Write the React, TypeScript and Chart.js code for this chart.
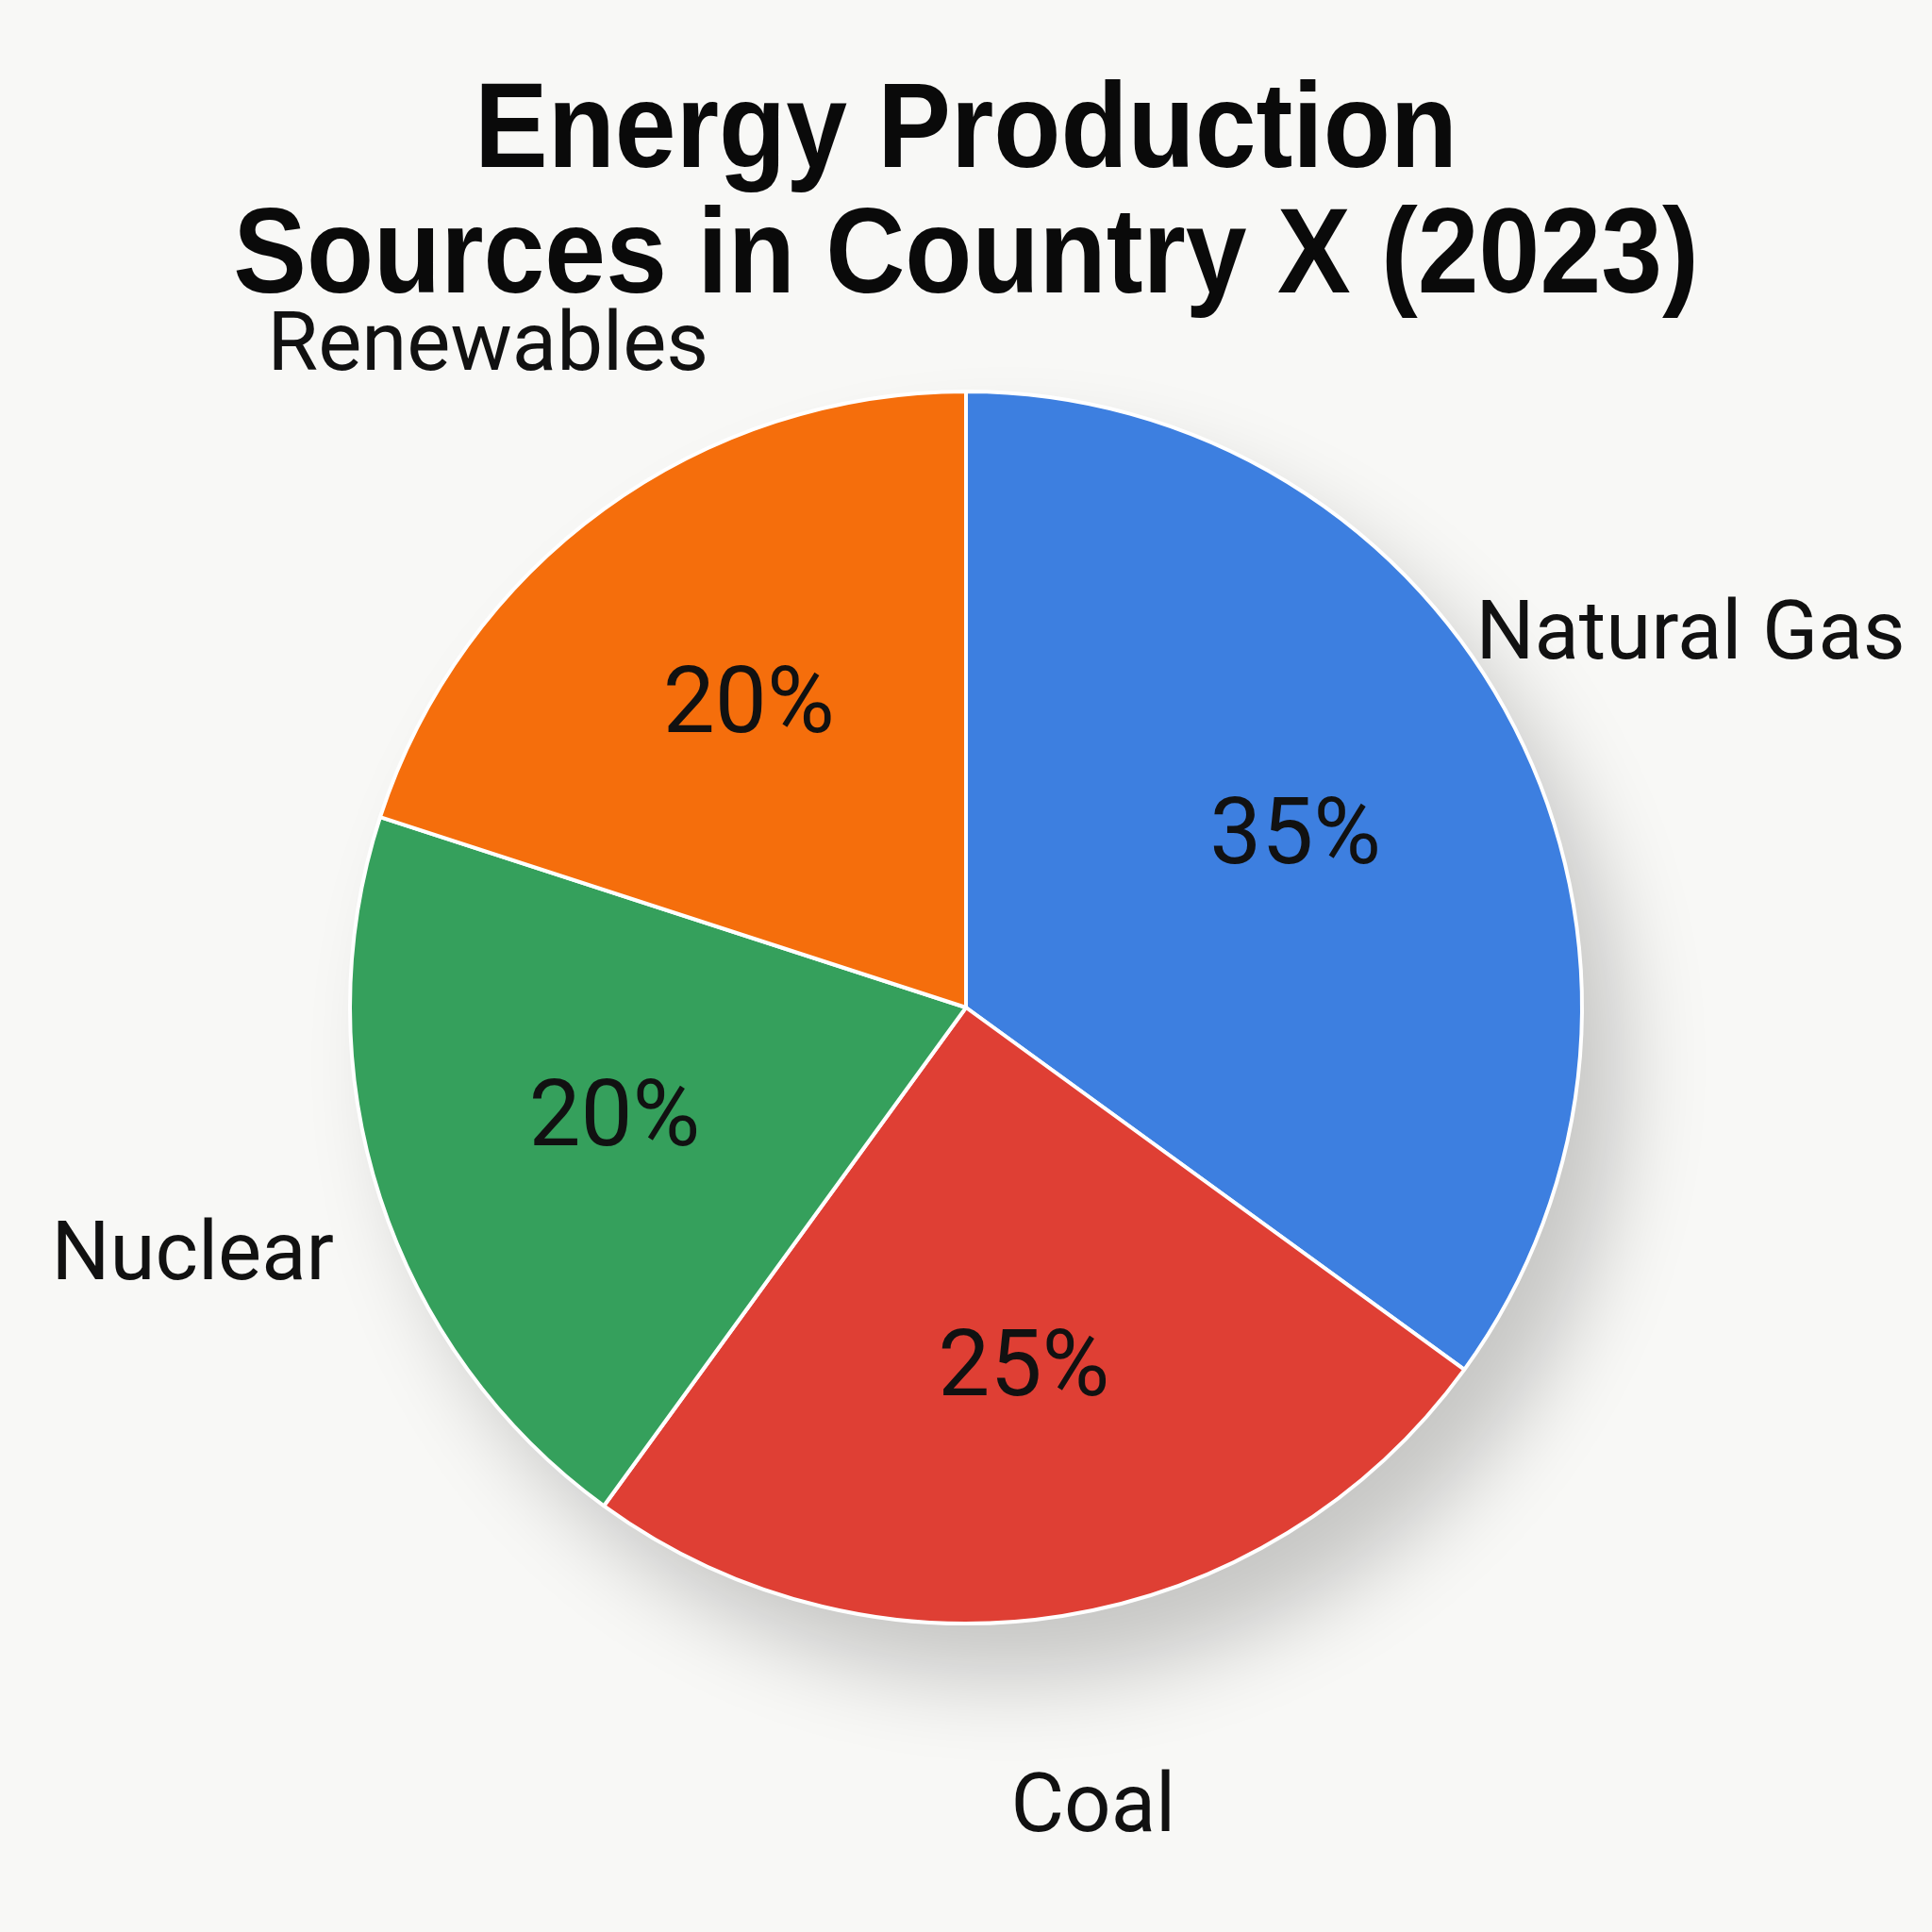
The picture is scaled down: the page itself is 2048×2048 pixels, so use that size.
import React, { useEffect, useRef } from "react";
import { Chart, registerables } from "chart.js";

Chart.register(...registerables);

const categories = ["Natural Gas", "Coal", "Nuclear", "Renewables"];
const shares = [35, 25, 20, 20];
const sliceColors = ["#3d7fe0", "#df3f34", "#35a05c", "#f56e0c"];
const titleLines = ["Energy Production", "Sources in Country X (2023)"];

const SIZE = 2048;

const decorPlugin = {
  id: "decor",
  beforeDraw(chart: any) {
    const { ctx } = chart;
    ctx.save();
    ctx.fillStyle = "#f8f8f6";
    ctx.fillRect(0, 0, chart.width, chart.height);
    // title (slightly condensed bold sans)
    ctx.fillStyle = "#0a0a0a";
    ctx.textAlign = "center";
    ctx.textBaseline = "alphabetic";
    ctx.font = "bold 128px 'Liberation Sans', Arial, sans-serif";
    ctx.translate(SIZE / 2, 0);
    ctx.scale(0.91, 1);
    ctx.fillText(titleLines[0], 0, 177);
    ctx.fillText(titleLines[1], 0, 310);
    ctx.restore();
  },
  beforeDatasetsDraw(chart: any) {
    const meta = chart.getDatasetMeta(0);
    if (!meta.data.length) return;
    const arc: any = meta.data[0];
    const { x, y, outerRadius } = arc.getProps(["x", "y", "outerRadius"], true);
    const { ctx } = chart;
    ctx.save();
    ctx.shadowColor = "rgba(0,0,0,0.2)";
    ctx.shadowBlur = 90;
    ctx.shadowOffsetX = 45;
    ctx.shadowOffsetY = 60;
    ctx.fillStyle = "#ffffff";
    ctx.beginPath();
    ctx.arc(x, y, outerRadius, 0, Math.PI * 2);
    ctx.fill();
    ctx.restore();
  },
  afterDatasetsDraw(chart: any) {
    const { ctx } = chart;
    const meta = chart.getDatasetMeta(0);
    const values = chart.data.datasets[0].data as number[];
    ctx.save();
    ctx.fillStyle = "#111111";
    ctx.textAlign = "center";
    ctx.textBaseline = "middle";
    meta.data.forEach((el: any, i: number) => {
      const { x, y, startAngle, endAngle, outerRadius } = el.getProps(
        ["x", "y", "startAngle", "endAngle", "outerRadius"],
        true
      );
      const mid = (startAngle + endAngle) / 2;
      ctx.font = "98px Roboto, 'Noto Sans', sans-serif";
      const ir = outerRadius * 0.6;
      ctx.fillText(`${values[i]}%`, x + Math.cos(mid) * ir, y + Math.sin(mid) * ir);
      ctx.font = "87px Roboto, 'Noto Sans', sans-serif";
      const or = outerRadius * 1.32;
      ctx.fillText(String(chart.data.labels[i]), x + Math.cos(mid) * or, y + Math.sin(mid) * or);
    });
    ctx.restore();
  },
};

export default function App() {
  const ref = useRef<HTMLCanvasElement | null>(null);
  useEffect(() => {
    if (!ref.current) return;
    const chart = new Chart(ref.current, {
      type: "pie",
      data: {
        labels: categories,
        datasets: [
          {
            data: shares,
            backgroundColor: sliceColors,
            borderColor: "#ffffff",
            borderWidth: 4,
          },
        ],
      },
      options: {
        responsive: false,
        animation: false,
        devicePixelRatio: 1,
        layout: { padding: { left: 369, right: 369, top: 413, bottom: 325 } },
        plugins: {
          legend: { display: false },
          title: { display: false },
          tooltip: { enabled: false },
        },
      },
      plugins: [decorPlugin],
    });
    return () => chart.destroy();
  }, []);
  return (
    <div style={{ position: "fixed", left: 0, top: 0, width: SIZE, height: SIZE }}>
      <canvas ref={ref} width={SIZE} height={SIZE} style={{ width: SIZE, height: SIZE }} />
    </div>
  );
}
